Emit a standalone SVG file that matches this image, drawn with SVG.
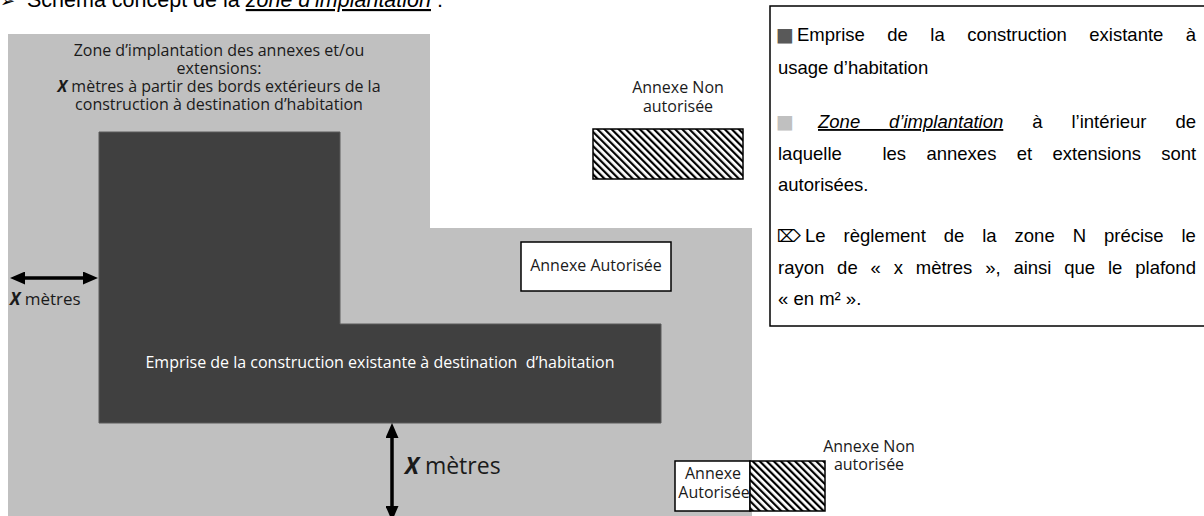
<svg xmlns="http://www.w3.org/2000/svg" width="1204" height="516" viewBox="0 0 1204 516">
<defs>
<style>
.lg{font-family:"Liberation Sans",Arial,sans-serif;font-size:18.5px;fill:#000}
.dg{font-family:"Open Sans","DejaVu Sans",sans-serif;font-size:16px;fill:#1a1a1a}
.sym{font-family:"DejaVu Sans",sans-serif}
.box{fill:#fff;stroke:#000;stroke-width:1.5}
.hatch{fill:url(#hatch);stroke:#000;stroke-width:1.5}
.arrow{stroke:#000;stroke-width:3.5;fill:none;marker-start:url(#ah);marker-end:url(#ah)}
</style>
<pattern id="hatch" width="5" height="5" patternUnits="userSpaceOnUse" patternTransform="rotate(-45)">
<rect width="5" height="5" fill="#fff"/><rect width="2.2" height="5" fill="#000"/>
</pattern>
<marker id="ah" markerUnits="userSpaceOnUse" markerWidth="15" markerHeight="13" refX="1" refY="6.5" orient="auto-start-reverse"><path d="M0,0 L15,6.5 L0,13 Z" fill="#000"/></marker>
</defs>
<rect width="1204" height="516" fill="#fff"/>
<g id="header">
<text class="sym" x="0" y="7" style="font-size:18px">➢</text>
<text class="lg" x="27" y="7" style="font-size:21.5px">Schéma concept de la <tspan font-style="italic" text-decoration="underline">zone d’implantation</tspan> :</text>
</g>
<g id="zone-implantation">
<path d="M8,34 H430 V228 H752 V516 H8 Z" fill="#c0c0c0"/>
<text class="dg" text-anchor="middle"><tspan x="219" y="56">Zone d’implantation des annexes et/ou</tspan><tspan x="219" y="74">extensions:</tspan><tspan x="219" y="92"><tspan font-weight="bold" font-style="italic">X</tspan> mètres à partir des bords extérieurs de la</tspan><tspan x="219" y="110">construction à destination d’habitation</tspan></text>
</g>
<g id="construction">
<path d="M99,132 H340 V324 H661 V423 H99 Z" fill="#404040" stroke="#5a5a5a" stroke-width="1"/>
<text class="dg" x="380" y="368" text-anchor="middle" style="fill:#fff" xml:space="preserve">Emprise de la construction existante à destination  d’habitation</text>
</g>
<g id="annexe-autorisee-1">
<rect class="box" x="521" y="242" width="150" height="49"/>
<text class="dg" x="596" y="271" text-anchor="middle">Annexe Autorisée</text>
</g>
<g id="annexe-non-autorisee-1">
<text class="dg" x="678" y="93" text-anchor="middle">Annexe Non</text>
<text class="dg" x="678" y="112" text-anchor="middle">autorisée</text>
<rect class="hatch" x="593" y="129" width="150" height="50"/>
</g>
<g id="annexe-autorisee-2">
<rect class="box" x="675" y="461" width="75" height="50"/>
<text class="dg" x="713" y="479" text-anchor="middle">Annexe</text>
<text class="dg" x="714" y="498" text-anchor="middle">Autorisée</text>
</g>
<g id="annexe-non-autorisee-2">
<rect class="hatch" x="750" y="461" width="75" height="50"/>
<text class="dg" x="869" y="452" text-anchor="middle">Annexe Non</text>
<text class="dg" x="869" y="470" text-anchor="middle">autorisée</text>
</g>
<g id="connectors">
<path class="arrow" d="M24,278 H84"/>
<path class="arrow" d="M392,437 V507"/>
<text class="dg" x="10" y="305" style="font-size:17px"><tspan font-weight="bold" font-style="italic">X</tspan> mètres</text>
<text class="dg" x="405" y="474" style="font-size:23px"><tspan font-weight="bold" font-style="italic">X</tspan> mètres</text>
</g>
<g id="legend">
<rect x="770" y="6" width="445" height="320" fill="#fff" stroke="#000" stroke-width="1.5"/>
<text class="sym" x="776" y="41" style="font-size:19px" fill="#595959">■</text>
<text class="lg" x="797" y="41" word-spacing="17.3">Emprise de la construction existante à</text>
<text class="lg" x="778" y="74">usage d’habitation</text>
<text class="sym" x="776" y="128" style="font-size:19px" fill="#c0c0c0">■</text>
<text class="lg" x="818" y="128" word-spacing="23.8"><tspan font-style="italic" text-decoration="underline">Zone d’implantation</tspan> à l’intérieur de</text>
<text class="lg" x="778" y="160" word-spacing="15.2" xml:space="preserve">laquelle  les annexes et extensions sont</text>
<text class="lg" x="778" y="191">autorisées.</text>
<text class="sym" x="777" y="242" style="font-size:17px">⌦</text>
<text class="lg" x="805" y="242" word-spacing="12.8">Le règlement de la zone N précise le</text>
<text class="lg" x="778" y="274" word-spacing="7.7">rayon de « x mètres », ainsi que le plafond</text>
<text class="lg" x="778" y="305">« en m² ».</text>
</g>
</svg>
